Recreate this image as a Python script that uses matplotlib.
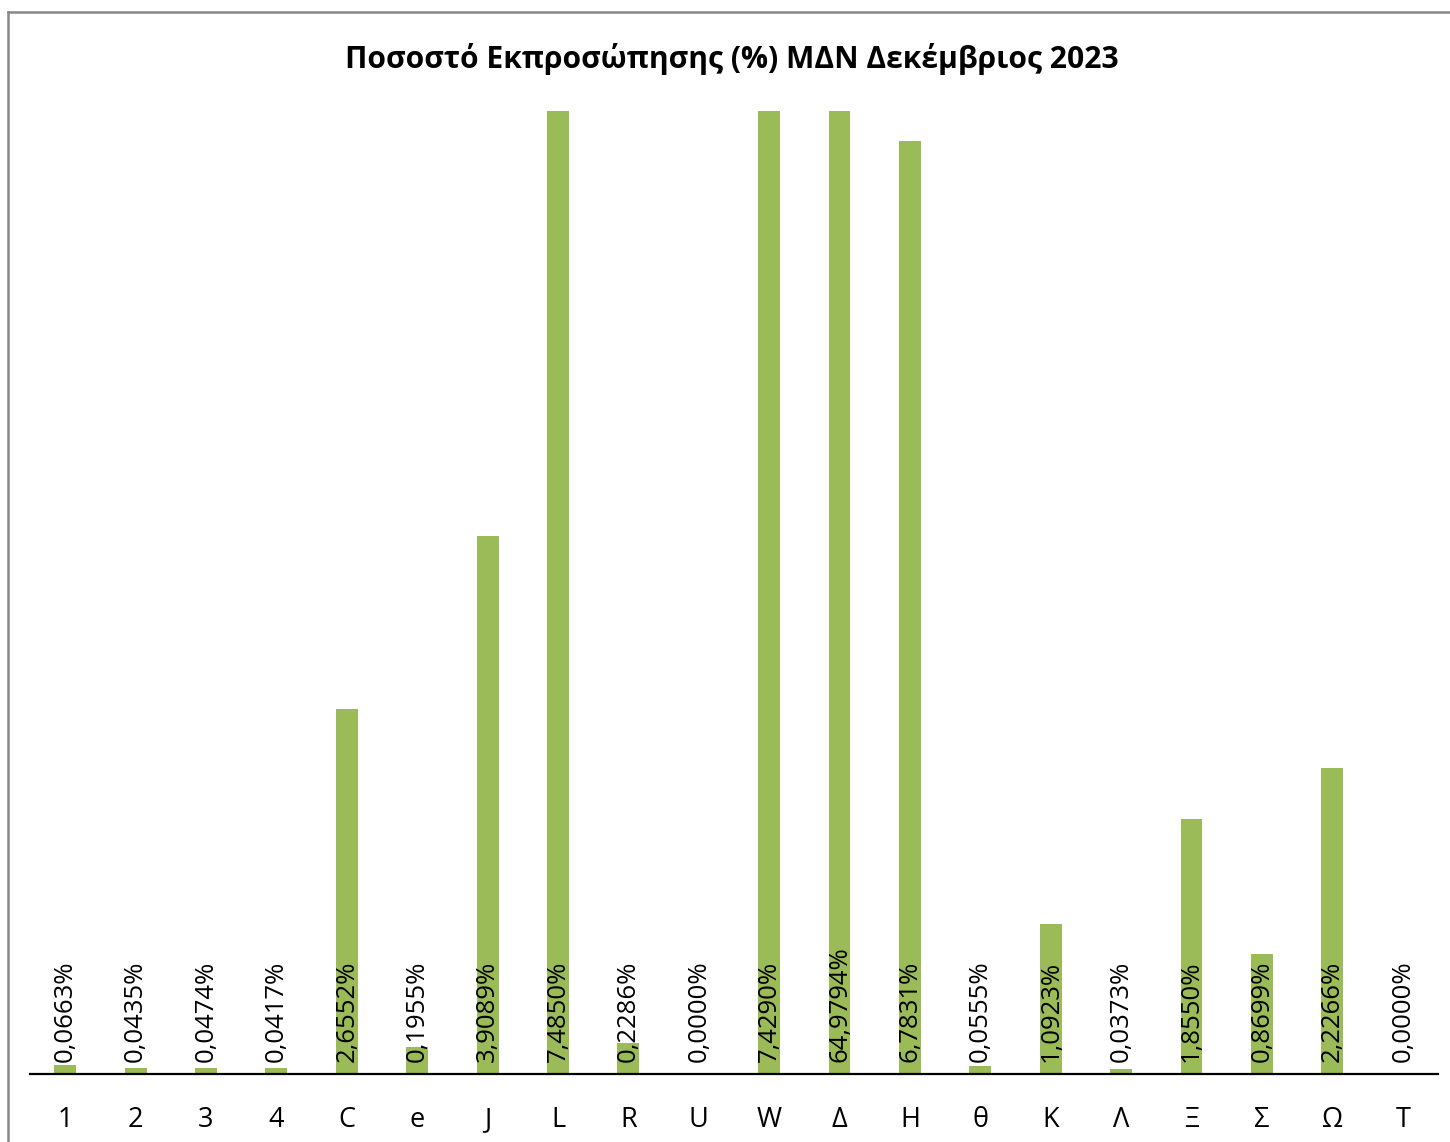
import matplotlib.pyplot as plt
from matplotlib.lines import Line2D

plt.rcParams['font.family'] = ['Open Sans', 'DejaVu Sans']

# κατηγορίες και ποσοστά εκπροσώπησης
categories = ['1', '2', '3', '4', 'C', 'e', 'J', 'L', 'R', 'U',
              'W', 'Δ', 'H', 'θ', 'K', 'Λ', 'Ξ', 'Σ', 'Ω', 'T']
values = [0.0663, 0.0435, 0.0474, 0.0417, 2.6552, 0.1955, 3.9089, 7.4850, 0.2286, 0.0000,
          7.4290, 64.9794, 6.7831, 0.0555, 1.0923, 0.0373, 1.8550, 0.8699, 2.2266, 0.0000]
labels = [f'{v:.4f}%'.replace('.', ',') for v in values]

fig = plt.figure(figsize=(14.5, 11.42), dpi=100)
ax = fig.add_axes([0.0207, 0.0595, 0.9710, 0.8433])

x = range(len(categories))
ax.bar(x, values, width=0.31, color='#9BBB59', zorder=2)

for i, lab in enumerate(labels):
    ax.annotate(lab, xy=(i, 0), xytext=(0, 8.5), textcoords='offset points',
                rotation=90, ha='center', va='bottom', fontsize=18.5,
                color='black', zorder=3)

ax.set_ylim(0, 7)
ax.set_xlim(-0.5, len(categories) - 0.5)
ax.set_xticks(list(x))
ax.set_xticklabels(categories, fontsize=19.5)
ax.tick_params(axis='x', length=0, pad=23)
ax.set_yticks([])
for s in ['top', 'right', 'left']:
    ax.spines[s].set_visible(False)
ax.spines['bottom'].set_linewidth(1.6)
ax.spines['bottom'].set_zorder(4)

fig.text(0.505, 0.948, 'Ποσοστό Εκπροσώπησης (%) ΜΔΝ Δεκέμβριος 2023',
         ha='center', va='center', fontsize=21.6, fontweight='bold')

# γκρι πλαίσιο γραφήματος
fig.add_artist(Line2D([8 / 1450, 8 / 1450], [0, 1 - 12 / 1142], transform=fig.transFigure,
                      color='#888888', linewidth=1.8))
fig.add_artist(Line2D([8 / 1450, 1], [1 - 12 / 1142, 1 - 12 / 1142], transform=fig.transFigure,
                      color='#888888', linewidth=1.8))

fig.savefig('out.png', dpi=100)
